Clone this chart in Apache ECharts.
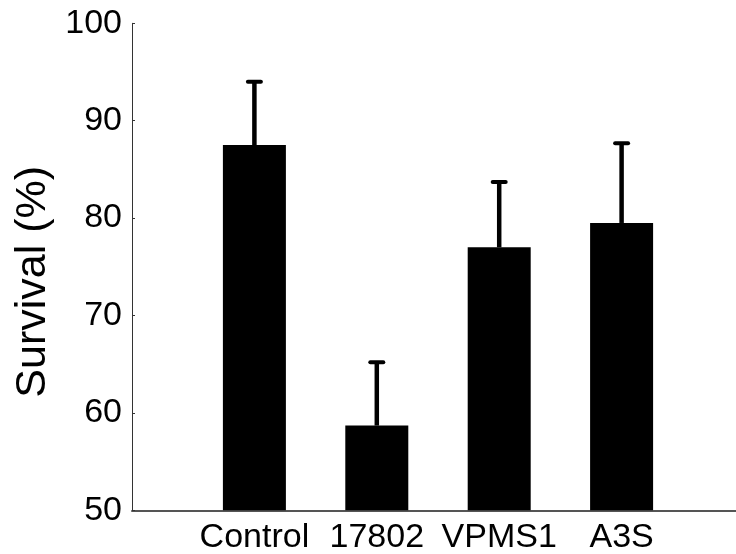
<!DOCTYPE html>
<html>
<head>
<meta charset="utf-8">
<script src="https://cdn.jsdelivr.net/npm/echarts@6/dist/echarts.min.js"></script>
<style>
html,body{margin:0;padding:0;background:#fff;}
#chart{width:736px;height:554px;}
</style>
</head>
<body>
<div id="chart"></div>
<script>
var categories = ['Control', '17802', 'VPMS1', 'A3S'];
var means = [87.5, 58.7, 77.0, 79.5];
var errors = [6.6, 6.6, 6.8, 8.3];
var yTicks = [50, 60, 70, 80, 90, 100];

var FONT = '"Liberation Sans", Arial, Helvetica, sans-serif';
var positions = categories.map(function (c, i) { return i + 1; });
var barData = positions.map(function (p, i) { return [p, means[i]]; });
var errData = positions.map(function (p, i) { return [p, means[i], means[i] + errors[i]]; });

var chart = echarts.init(document.getElementById('chart'));
chart.setOption({
  animation: false,
  backgroundColor: '#fff',
  grid: { left: 132, top: 23.3, width: 612, bottom: 43.7, containLabel: false, outerBoundsMode: 'none' },
  xAxis: {
    type: 'value',
    min: 0, max: 5, interval: 1,
    axisLine: { show: true, onZero: false, lineStyle: { color: '#555', width: 2 } },
    axisTick: { show: false },
    splitLine: { show: false },
    axisLabel: {
      customValues: positions,
      formatter: function (v) { return categories[Math.round(v) - 1] || ''; },
      color: '#000', fontFamily: FONT, fontSize: 34, margin: 10
    }
  },
  yAxis: {
    type: 'value',
    min: 50, max: 100, interval: 10,
    name: 'Survival (%)',
    nameLocation: 'middle',
    nameGap: 74,
    nameRotate: 90,
    nameTextStyle: { color: '#000', fontFamily: FONT, fontSize: 43, padding: [0, 30, 0, 0] },
    axisLine: { show: true, lineStyle: { color: '#333', width: 1 } },
    axisTick: { show: true, inside: true, length: 3, lineStyle: { color: '#333', width: 1 } },
    splitLine: { show: false },
    axisLabel: {
      color: '#000', fontFamily: FONT, fontSize: 34, margin: 10,
      formatter: function (v) { return yTicks.indexOf(v) >= 0 ? String(v) : ''; }
    }
  },
  series: [
    {
      type: 'bar',
      data: barData,
      barWidth: 63,
      itemStyle: { color: '#000' },
      z: 2
    },
    {
      type: 'custom',
      data: errData,
      z: 3,
      renderItem: function (params, api) {
        var x = api.value(0);
        var lo = api.coord([x, api.value(1)]);
        var hi = api.coord([x, api.value(2)]);
        return {
          type: 'group',
          children: [
            { type: 'line', shape: { x1: lo[0], y1: lo[1], x2: hi[0], y2: hi[1] + 1 },
              style: { stroke: '#000', lineWidth: 4.5 } },
            { type: 'line', shape: { x1: hi[0] - 6.5, y1: hi[1] + 1, x2: hi[0] + 6.5, y2: hi[1] + 1 },
              style: { stroke: '#000', lineWidth: 4, lineCap: 'round' } }
          ]
        };
      }
    }
  ]
});
</script>
</body>
</html>
